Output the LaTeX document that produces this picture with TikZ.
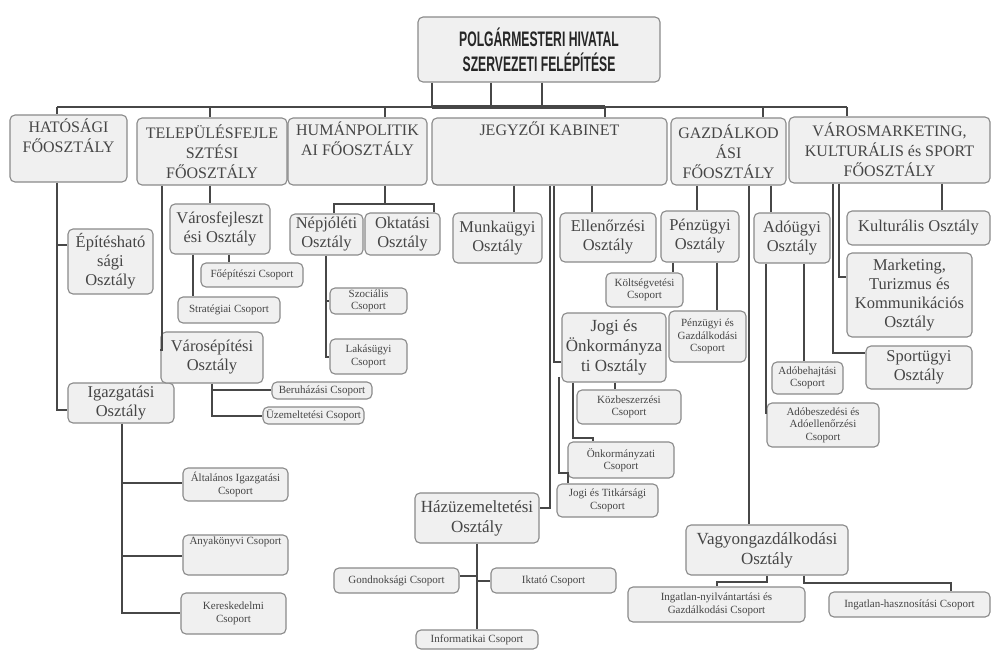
\documentclass[tikz,border=0pt]{standalone}
\usepackage{fontspec}
\setmainfont{Liberation Serif}
\newfontfamily\titlefont[FakeStretch=0.58]{Liberation Sans}
\definecolor{boxc}{HTML}{8A8A8A}
\definecolor{fillc}{HTML}{F0F0F0}
\definecolor{txtc}{HTML}{454545}
\definecolor{linec}{HTML}{474747}
\tikzset{
  box/.style={draw=boxc, fill=fillc, rounded corners=5pt, line width=1.1pt, inner sep=0pt, align=center, text=txtc},
  lt/.style={font=\titlefont\bfseries\fontsize{21}{25}\selectfont, text=black!85},
  lone/.style={font=\fontsize{16}{20}\selectfont},
  ltwo/.style={font=\fontsize{16.5}{19}\selectfont},
  lbig/.style={font=\fontsize{17}{20}\selectfont},
  lthree/.style={font=\fontsize{11}{12.5}\selectfont},
  conn/.style={draw=linec, line width=2pt},
}
\newcommand\obox[7][]{%
  \node[box,#1,minimum width={(#5-#3)*1pt},minimum height={(#6-#4)*1pt}] (#2) at ({(#3+#5)/2},{(#4+#6)/2}) {#7};}
\begin{document}
\begin{tikzpicture}[x=1pt,y=-1pt]
\useasboundingbox[fill=white] (0,0) rectangle (991,651);
% title
\obox[lt]{title}{418}{17}{660}{82}{POLGÁRMESTERI HIVATAL\\SZERVEZETI FELÉPÍTÉSE}
% level 1
\obox[lone]{hat}{10}{115}{127}{182}{HATÓSÁGI\\FŐOSZTÁLY\\ \strut}
\obox[lone]{tel}{137}{118}{287}{185}{TELEPÜLÉSFEJLE\\SZTÉSI\\FŐOSZTÁLY}
\obox[lone]{hum}{288}{118}{427}{185}{HUMÁNPOLITIK\\AI FŐOSZTÁLY\\ \strut}
\obox[lone]{jeg}{432}{118}{667}{185}{JEGYZŐI KABINET\\ \strut\\ \strut}
\obox[lone]{gaz}{671}{118}{786}{185}{GAZDÁLKOD\\ÁSI\\FŐOSZTÁLY}
\obox[lone]{vm}{789}{117}{990}{183}{VÁROSMARKETING,\\KULTURÁLIS és SPORT\\FŐOSZTÁLY}
% Hatósági
\obox[ltwo]{epit}{68}{229}{153}{294}{Építésható\\sági\\Osztály}
\obox[ltwo]{igaz}{68}{383}{174}{423}{Igazgatási\\Osztály}
\obox[lthree]{alt}{183}{468}{288}{501}{Általános Igazgatási\\Csoport}
\obox[lthree]{anya}{183}{535}{288}{575}{Anyakönyvi Csoport\\ \strut\\ \strut}
\obox[lthree]{ker}{181}{593}{286}{634}{Kereskedelmi\\Csoport}
% Településfejlesztési
\obox[ltwo]{vfejl}{170}{204}{270}{254}{Városfejleszt\\ési Osztály}
\obox[lthree]{foep}{201}{263}{303}{287}{Főépítészi Csoport}
\obox[lthree]{strat}{178}{297}{280}{323}{Stratégiai Csoport}
\obox[ltwo]{vep}{161}{332}{263}{383}{Városépítési\\Osztály}
\obox[lthree]{beru}{272}{382}{372}{399}{Beruházási Csoport}
\obox[lthree]{uzem}{263}{407}{364}{424}{Üzemeltetési Csoport}
% Humánpolitikai
\obox[ltwo]{nep}{290}{214}{363}{255}{Népjóléti\\Osztály}
\obox[ltwo]{okt}{365}{213}{440}{255}{Oktatási\\Osztály}
\obox[lthree]{szoc}{330}{288}{407}{314}{Szociális\\Csoport}
\obox[lthree]{lak}{330}{339}{407}{374}{Lakásügyi\\Csoport}
% Jegyzői
\obox[ltwo]{munka}{453}{213}{542}{263}{Munkaügyi\\Osztály}
\obox[ltwo]{ell}{560}{213}{656}{262}{Ellenőrzési\\Osztály}
\obox[lbig]{jogi}{562}{313}{666}{382}{Jogi és\\Önkormányza\\ti Osztály}
\obox[lthree]{kozb}{577}{390}{681}{424}{Közbeszerzési\\Csoport}
\obox[lthree]{onk}{568}{442}{674}{478}{Önkormányzati\\Csoport}
\obox[lthree]{jtit}{557}{484}{658}{517}{Jogi és Titkársági\\Csoport}
\obox[lbig]{haz}{415}{493}{539}{543}{Házüzemeltetési\\Osztály}
\obox[lthree]{gond}{334}{568}{459}{593}{Gondnoksági Csoport}
\obox[lthree]{ikt}{491}{568}{616}{593}{Iktató Csoport}
\obox[lthree]{info}{416}{630}{538}{649}{Informatikai Csoport}
% Gazdálkodási
\obox[ltwo]{pen}{661}{211}{739}{262}{Pénzügyi\\Osztály}
\obox[lthree]{kolt}{606}{273}{683}{307}{Költségvetési\\Csoport}
\obox[lthree]{pgcs}{669}{311}{746}{362}{Pénzügyi és\\Gazdálkodási\\Csoport}
\obox[ltwo]{ado}{754}{213}{830}{263}{Adóügyi\\Osztály}
\obox[lthree]{adobeh}{772}{362}{843}{394}{Adóbehajtási\\Csoport}
\obox[lthree]{adobesz}{767}{403}{879}{447}{Adóbeszedési és\\Adóellenőrzési\\Csoport}
\obox[lbig]{vagy}{686}{525}{848}{575}{Vagyongazdálkodási\\Osztály}
\obox[lthree]{ingny}{628}{587}{805}{622}{Ingatlan-nyilvántartási és\\Gazdálkodási Csoport}
\obox[lthree]{inghasz}{829}{592}{990}{617}{Ingatlan-hasznosítási Csoport}
% Városmarketing
\obox[ltwo]{kult}{847}{211}{990}{245}{Kulturális Osztály}
\obox[ltwo]{mark}{847}{253}{972}{337}{Marketing,\\Turizmus és\\Kommunikációs\\Osztály}
\obox[ltwo]{sport}{866}{346}{972}{389}{Sportügyi\\Osztály}
% ---- connectors ----
\coordinate (bus) at (0,107);
\draw[conn] (432,0 |- title.south) -- (432,0 |- bus);
\draw[conn] (491,0 |- title.south) -- (491,0 |- bus);
\draw[conn] (542,0 |- title.south) -- (542,0 |- bus);
\draw[conn] (57,0 |- bus) -- (847,0 |- bus);
\draw[conn,line width=3.2pt] (432,0 |- bus) -- (605,0 |- bus);
\draw[conn] (57,0 |- bus) -- (57,0 |- hat.north);
\draw[conn] (210,0 |- bus) -- (210,0 |- tel.north);
\draw[conn] (385,0 |- bus) -- (385,0 |- hum.north);
\draw[conn] (605,0 |- bus) -- (605,0 |- jeg.north);
\draw[conn] (763,0 |- bus) -- (763,0 |- gaz.north);
\draw[conn] (847,0 |- bus) -- (847,0 |- vm.north);
% Hatósági
\draw[conn] (57,0 |- hat.south) -- (57,410) -- (igaz.west |- 0,410);
\draw[conn] (57,245) -- (epit.west |- 0,245);
\draw[conn] (122,0 |- igaz.south) -- (122,613) -- (ker.west |- 0,613);
\draw[conn] (122,483) -- (alt.west |- 0,483);
\draw[conn] (122,556) -- (anya.west |- 0,556);
% Településfejlesztési
\draw[conn] (162,0 |- tel.south) -- (162,350) -- (vep.west |- 0,350);
\draw[conn] (210,0 |- tel.south) -- (210,0 |- vfejl.north);
\draw[conn] (229,0 |- vfejl.south) -- (229,0 |- foep.north);
\draw[conn] (193,0 |- vfejl.south) -- (193,0 |- strat.north);
\draw[conn] (212,0 |- vep.south) -- (212,416) -- (uzem.west |- 0,416);
\draw[conn] (212,390) -- (beru.west |- 0,390);
% Humánpolitikai
\draw[conn] (385,0 |- hum.south) -- (385,204);
\draw[conn] (334,0 |- nep.north) -- (334,204) -- (434,204) -- (434,0 |- okt.north);
\draw[conn] (326,0 |- nep.south) -- (326,357) -- (lak.west |- 0,357);
\draw[conn] (326,301) -- (szoc.west |- 0,301);
% Jegyzői
\draw[conn] (514,0 |- jeg.south) -- (514,0 |- munka.north);
\draw[conn] (592,0 |- jeg.south) -- (592,0 |- ell.north);
\draw[conn] (550,0 |- jeg.south) -- (550,508) -- (haz.east |- 0,508);
\draw[conn] (554,0 |- jeg.south) -- (554,362) -- (jogi.west |- 0,362);
\draw[conn] (615,0 |- jogi.south) -- (615,0 |- kozb.north);
\draw[conn] (573,0 |- jogi.south) -- (573,438) -- (593,438) -- (593,0 |- onk.north);
\draw[conn] (559,377) -- (559,473) -- (568,473) -- (568,0 |- jtit.north);
\draw[conn] (477,0 |- haz.south) -- (477,0 |- info.north);
\draw[conn] (477,576) -- (gond.east |- 0,576);
\draw[conn] (477,581) -- (ikt.west |- 0,581);
% Gazdálkodási
\draw[conn] (697,0 |- gaz.south) -- (697,0 |- pen.north);
\draw[conn] (771,0 |- gaz.south) -- (771,0 |- ado.north);
\draw[conn] (749,0 |- gaz.south) -- (749,0 |- vagy.north);
\draw[conn] (673,0 |- pen.south) -- (673,0 |- kolt.north);
\draw[conn] (717,0 |- pen.south) -- (717,0 |- pgcs.north);
\draw[conn] (804,0 |- ado.south) -- (804,0 |- adobeh.north);
\draw[conn] (766,0 |- ado.south) -- (766,413) -- (adobesz.west |- 0,413);
\draw[conn] (767,0 |- vagy.south) -- (767,582) -- (717,582) -- (717,0 |- ingny.north);
\draw[conn] (804,0 |- vagy.south) -- (804,583) -- (951,583) -- (951,0 |- inghasz.north);
% Városmarketing
\draw[conn] (942,0 |- vm.south) -- (942,0 |- kult.north);
\draw[conn] (833,0 |- vm.south) -- (833,353) -- (sport.west |- 0,353);
\draw[conn] (839,0 |- vm.south) -- (839,277) -- (mark.west |- 0,277);
\end{tikzpicture}
\end{document}
